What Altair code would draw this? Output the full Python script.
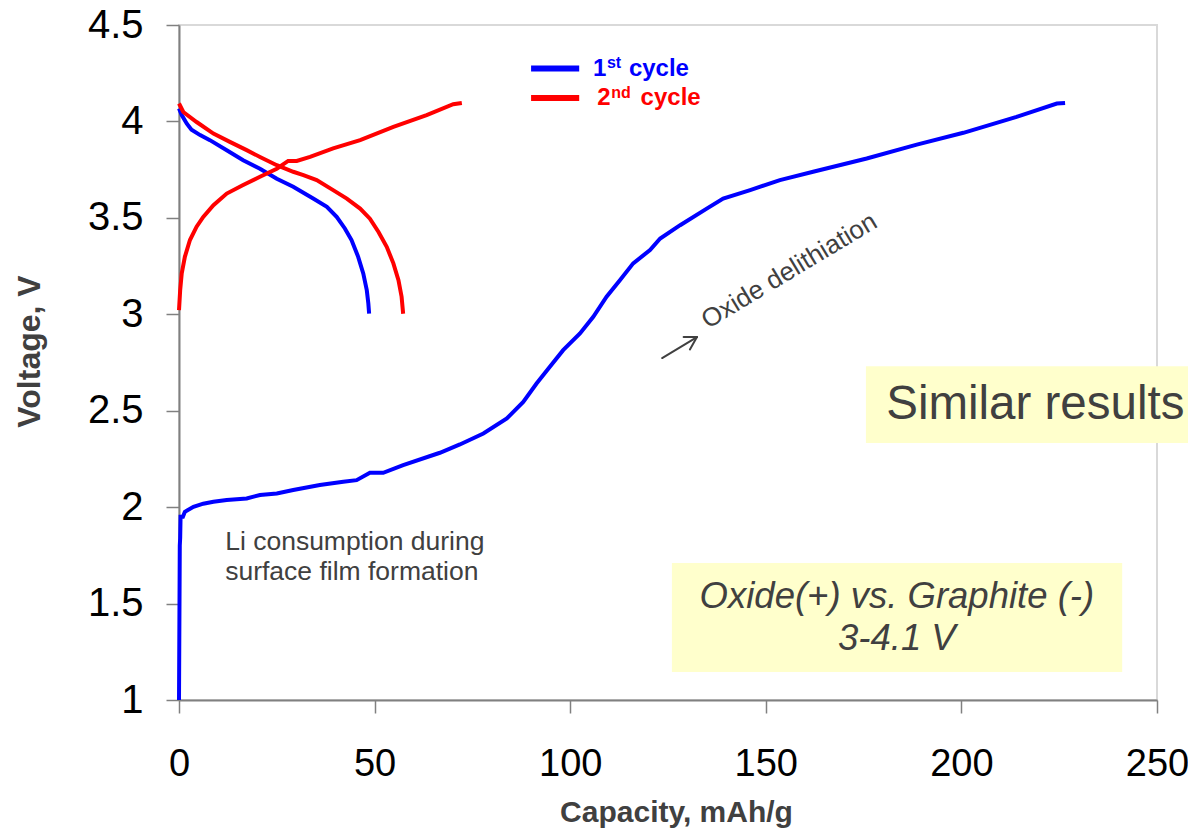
import altair as alt
import pandas as pd

# ---------------- data ----------------
# 1st cycle charge (blue)
c1_chg_cap = [0, 0.2, 0.3, 0.4, 1.0, 1.5, 3.7, 6.2, 8.8, 12.2, 17.3, 20.7, 25.0, 29.2, 36.0,
              42.0, 45.4, 48.8, 52.2, 57.3, 66.7, 71.8, 77.8, 83.8, 88.0, 91.4, 94.8, 98.2,
              102.5, 105.9, 109.3, 112.7, 116.1, 120.4, 123.0, 128.1, 134.9, 139.1, 146.0,
              153.6, 162.1, 175.8, 188.6, 200.5, 214.1, 224.4, 226.5]
c1_chg_v = [1.00, 1.80, 1.84, 1.95, 1.95, 1.976, 2.002, 2.018, 2.028, 2.037, 2.045, 2.063, 2.071,
            2.089, 2.115, 2.132, 2.140, 2.178, 2.178, 2.218, 2.282, 2.325, 2.382, 2.460, 2.546,
            2.641, 2.728, 2.814, 2.901, 2.987, 3.091, 3.177, 3.264, 3.333, 3.393, 3.462, 3.548,
            3.600, 3.644, 3.696, 3.739, 3.808, 3.880, 3.941, 4.024, 4.093, 4.096]
# 1st cycle discharge (blue)
c1_dis_cap = [0, 0.7, 2.0, 3.2, 5.4, 7.9, 12.2, 16.4, 20.7, 25.0, 29.2, 34.3, 37.8, 40.3, 42.4,
              44.1, 45.8, 47.1, 48.0, 48.4, 48.6]
c1_dis_v = [4.067, 4.033, 3.988, 3.957, 3.929, 3.903, 3.851, 3.799, 3.755, 3.703, 3.661, 3.600,
            3.557, 3.505, 3.445, 3.385, 3.298, 3.212, 3.125, 3.056, 3.003]
# 2nd cycle discharge (red)
c2_dis_cap = [0, 1.1, 4.5, 8.8, 13.0, 17.3, 20.7, 25.0, 29.2, 31.8, 35.2, 39.4, 42.9, 46.3, 48.8,
              51.0, 53.1, 54.8, 56.1, 56.9, 57.3]
c2_dis_v = [4.093, 4.049, 3.997, 3.937, 3.894, 3.851, 3.816, 3.773, 3.739, 3.722, 3.696, 3.644,
            3.600, 3.548, 3.496, 3.427, 3.350, 3.264, 3.177, 3.091, 3.003]
# 2nd cycle charge (red)
c2_chg_cap = [0, 0.3, 0.7, 1.5, 2.8, 4.5, 6.2, 8.8, 12.2, 16.4, 20.7, 25.0, 27.9, 30.1, 33.5,
              39.4, 46.3, 54.8, 63.3, 70.1, 72.3]
c2_chg_v = [3.022, 3.125, 3.212, 3.298, 3.385, 3.454, 3.505, 3.566, 3.626, 3.670, 3.713, 3.755,
            3.795, 3.795, 3.816, 3.860, 3.903, 3.972, 4.033, 4.089, 4.096]

x_ticks = [0, 50, 100, 150, 200, 250]
y_ticks = [1, 1.5, 2, 2.5, 3, 3.5, 4, 4.5]

FONT = "Liberation Sans"
DARK = "#404040"
BLUE = "#0000FF"
RED = "#FF0000"

rows = []
for name, caps, vs, col in [("c1_charge", c1_chg_cap, c1_chg_v, BLUE),
                            ("c1_discharge", c1_dis_cap, c1_dis_v, BLUE),
                            ("c2_discharge", c2_dis_cap, c2_dis_v, RED),
                            ("c2_charge", c2_chg_cap, c2_chg_v, RED)]:
    for i, (c, v) in enumerate(zip(caps, vs)):
        rows.append({"cap": c, "v": v, "series": name, "color": col, "i": i})
df = pd.DataFrame(rows)

xs = alt.Scale(domain=[0, 250], nice=False, zero=False)
ys = alt.Scale(domain=[1, 4.5], nice=False, zero=False)

x_axis = alt.Axis(values=x_ticks, format="d", title="Capacity, mAh/g", grid=False,
                  labelFontSize=38, labelColor="black", labelFont=FONT, labelPadding=32,
                  labelFlush=False, labelOverlap=False,
                  tickSize=13, tickColor="#808080", tickWidth=1.5,
                  domainColor="#808080", domainWidth=2,
                  titleFont=FONT, titleFontSize=30, titleFontWeight="bold", titleColor=DARK,
                  titleBaseline="alphabetic", titleY=121, titleX=497)
y_axis = alt.Axis(values=y_ticks, format="~g", title="Voltage, V", grid=False,
                  labelFontSize=40, labelColor="black", labelFont=FONT, labelPadding=23,
                  labelFlush=False, labelOverlap=False,
                  tickSize=13, tickColor="#808080", tickWidth=1.5,
                  domainColor="#808080", domainWidth=2,
                  titleFont=FONT, titleFontSize=32, titleFontWeight="bold", titleColor=DARK,
                  titleAngle=270, titleBaseline="middle", titleAlign="center",
                  titleX=-150, titleY=326)

lines = alt.Chart(df).mark_line(strokeWidth=4).encode(
    x=alt.X("cap:Q", scale=xs, axis=x_axis),
    y=alt.Y("v:Q", scale=ys, axis=y_axis),
    detail="series:N",
    color=alt.Color("color:N", scale=None),
    order="i:Q",
)

# yellow boxes (data coordinates)
boxes = pd.DataFrame({
    "x1": [175.6, 126.0], "x2": [262.0, 241.1],
    "y1": [2.332, 1.145], "y2": [2.731, 1.710],
})
box_layer = alt.Chart(boxes).mark_rect(color="#FFFFCC").encode(
    x=alt.X("x1:Q", scale=xs), x2="x2:Q",
    y=alt.Y("y1:Q", scale=ys), y2="y2:Q",
)

similar = alt.Chart(pd.DataFrame({"x": [218.9], "y": [2.529], "t": ["Similar results"]})).mark_text(
    font=FONT, fontSize=47.5, color=DARK, align="center", baseline="middle"
).encode(x=alt.X("x:Q", scale=xs), y=alt.Y("y:Q", scale=ys), text="t:N")

oxide_box = alt.Chart(pd.DataFrame({"x": [183.5, 183.5], "y": [1.477, 1.259],
                                    "t": ["Oxide(+) vs. Graphite (-)", "3-4.1 V"]})).mark_text(
    font=FONT, fontSize=36.5, fontStyle="italic", color=DARK, align="center", baseline="alphabetic"
).encode(x=alt.X("x:Q", scale=xs), y=alt.Y("y:Q", scale=ys), text="t:N")

li_text = alt.Chart(pd.DataFrame({"x": [11.8, 11.8], "y": [1.778, 1.622],
                                  "t": ["Li consumption during", "surface film formation"]})).mark_text(
    font=FONT, fontSize=26.5, color=DARK, align="left", baseline="alphabetic"
).encode(x=alt.X("x:Q", scale=xs), y=alt.Y("y:Q", scale=ys), text="t:N")

delith = alt.Chart(pd.DataFrame({"x": [135.2], "y": [2.923], "t": ["Oxide delithiation"]})).mark_text(
    font=FONT, fontSize=26, color=DARK, align="left", baseline="alphabetic", angle=329
).encode(x=alt.X("x:Q", scale=xs), y=alt.Y("y:Q", scale=ys), text="t:N")

arrow = alt.Chart(pd.DataFrame({
    "x": [123.5, 132.4, 132.4], "x2": [132.4, 129.0, 130.6],
    "y": [2.773, 2.882, 2.882], "y2": [2.882, 2.882, 2.818],
})).mark_rule(color=DARK, strokeWidth=2, strokeCap="round").encode(
    x=alt.X("x:Q", scale=xs), x2="x2:Q", y=alt.Y("y:Q", scale=ys), y2="y2:Q")

# legend
leg_lines = alt.Chart(pd.DataFrame({
    "x": [90.0, 90.0], "x2": [102.3, 102.3], "y": [4.275, 4.122], "color": [BLUE, RED],
})).mark_rule(strokeWidth=6).encode(
    x=alt.X("x:Q", scale=xs), x2="x2:Q", y=alt.Y("y:Q", scale=ys),
    color=alt.Color("color:N", scale=None))

leg_big = alt.Chart(pd.DataFrame({
    "x": [105.8, 115.0, 106.9, 118.0], "y": [4.235, 4.235, 4.083, 4.083],
    "t": ["1", "cycle", "2", "cycle"], "color": [BLUE, BLUE, RED, RED],
})).mark_text(font=FONT, fontSize=24, fontWeight="bold", align="left", baseline="alphabetic").encode(
    x=alt.X("x:Q", scale=xs), y=alt.Y("y:Q", scale=ys), text="t:N",
    color=alt.Color("color:N", scale=None))

leg_sup = alt.Chart(pd.DataFrame({
    "x": [109.4, 110.5], "y": [4.276, 4.124], "t": ["st", "nd"], "color": [BLUE, RED],
})).mark_text(font=FONT, fontSize=16, fontWeight="bold", align="left", baseline="alphabetic").encode(
    x=alt.X("x:Q", scale=xs), y=alt.Y("y:Q", scale=ys), text="t:N",
    color=alt.Color("color:N", scale=None))

chart = alt.layer(
    box_layer, lines, similar, oxide_box, li_text, delith, arrow, leg_lines, leg_big, leg_sup
).properties(
    width=978, height=675,
    padding={"left": 171, "top": 17, "right": 31, "bottom": 128},
    autosize=alt.AutoSizeParams(type="none"),
).configure_view(stroke="#d9d9d9", strokeWidth=2)

chart.save("out.html", embed_options={"renderer": "svg", "actions": False})
